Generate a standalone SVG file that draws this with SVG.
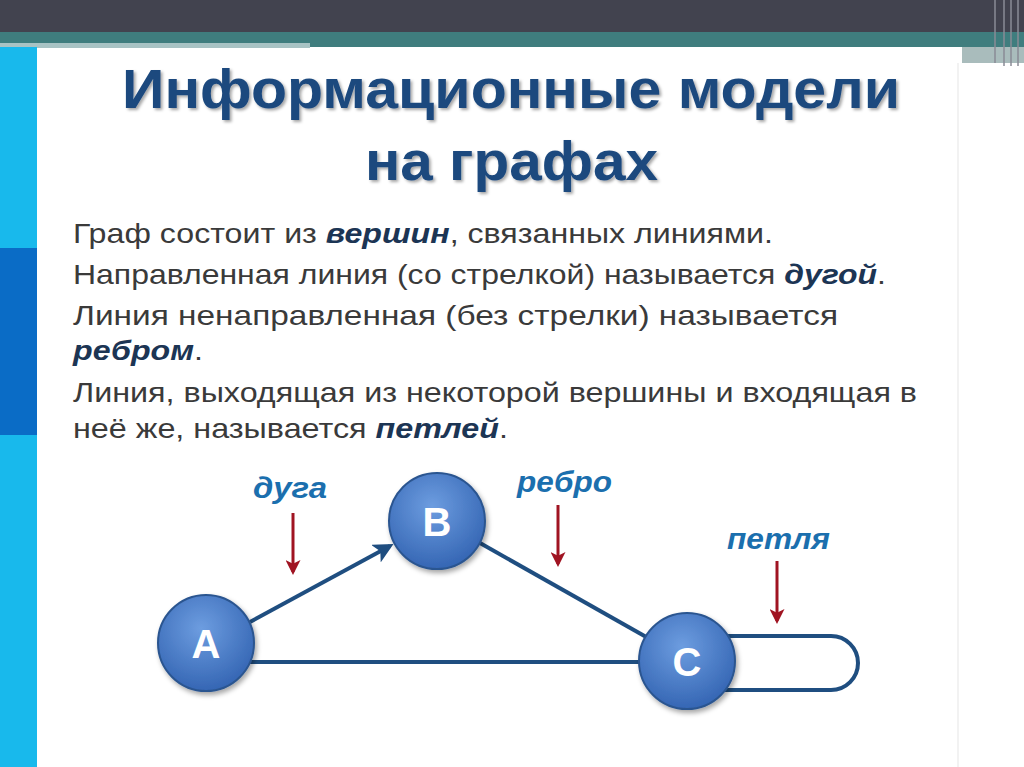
<svg xmlns="http://www.w3.org/2000/svg" width="1024" height="767" viewBox="0 0 1024 767">
<defs>
<radialGradient id="nodeGrad" cx="45%" cy="35%" r="65%">
<stop offset="0" stop-color="#6d9de0"/>
<stop offset="1" stop-color="#3566b4"/>
</radialGradient>
<filter id="shadow" x="-20%" y="-20%" width="150%" height="150%">
<feDropShadow dx="2" dy="3" stdDeviation="2.5" flood-color="#000" flood-opacity="0.35"/>
</filter>
<filter id="tshadow" x="-5%" y="-20%" width="110%" height="150%">
<feDropShadow dx="2" dy="2" stdDeviation="1.5" flood-color="#000" flood-opacity="0.35"/>
</filter>
<marker id="blueArrow" viewBox="0 0 10 10" refX="8" refY="5" markerWidth="5" markerHeight="5" orient="auto" markerUnits="strokeWidth">
<path d="M0,0 L10,5 L0,10 L2.5,5 z" fill="#1f4e80"/>
</marker>
<marker id="redArrow" viewBox="0 0 10 10" refX="8" refY="5" markerWidth="5" markerHeight="5" orient="auto" markerUnits="strokeWidth">
<path d="M0,0 L10,5 L0,10 L2.5,5 z" fill="#a01422"/>
</marker>
</defs>
<style>
.body{font-family:"Liberation Sans",Arial,sans-serif;font-size:28px;fill:#3a3a3a}
.em{font-weight:bold;font-style:italic;fill:#1c3554}
.title{font-family:"Liberation Sans",Arial,sans-serif;font-size:56px;font-weight:bold;fill:#1f4a7e}
.lbl{font-family:"Liberation Sans",Arial,sans-serif;font-size:30px;font-weight:bold;font-style:italic;fill:#1b6fae}
.nodeC{fill:url(#nodeGrad);stroke:#2b5590;stroke-width:2}
.nodeT{font-family:"Liberation Sans",Arial,sans-serif;font-size:40px;font-weight:bold;fill:#ffffff;text-anchor:middle}
.edge{stroke:#1f4e80;stroke-width:4;fill:none}
.red{stroke:#a01422;stroke-width:3;fill:none}
</style>
<rect width="1024" height="767" fill="#ffffff"/>
<!-- header bars -->
<rect x="0" y="0" width="1024" height="33" fill="#42434f"/>
<rect x="0" y="32" width="1024" height="15" fill="#3f7d7e"/>
<rect x="0" y="43" width="310" height="5" fill="#a8c3c4"/>
<rect x="962" y="47" width="62" height="16" fill="#a9bcbc"/>
<g stroke="#8a8b96" stroke-width="1.5">
<line x1="995" y1="0" x2="995" y2="63"/>
<line x1="1004" y1="0" x2="1004" y2="66"/>
<line x1="1011" y1="0" x2="1011" y2="66"/>
<line x1="1018" y1="0" x2="1018" y2="66"/>
</g>
<!-- left bar -->
<rect x="0" y="47" width="37" height="720" fill="#18b9ec"/>
<rect x="0" y="248" width="37" height="187" fill="#0a6cc6"/>
<line x1="958" y1="63" x2="958" y2="767" stroke="#f2f2f2" stroke-width="2"/>
<!-- title -->
<g filter="url(#tshadow)">
<text class="title" x="122" y="108" textLength="778" lengthAdjust="spacingAndGlyphs">Информационные модели</text>
<text class="title" x="365" y="180" textLength="293" lengthAdjust="spacingAndGlyphs">на графах</text>
</g>
<!-- body text -->
<text class="body" x="73" y="243" textLength="700" lengthAdjust="spacingAndGlyphs">Граф состоит из <tspan class="em">вершин</tspan>, связанных линиями.</text>
<text class="body" x="73" y="284" textLength="813" lengthAdjust="spacingAndGlyphs">Направленная линия (со стрелкой) называется <tspan class="em">дугой</tspan>.</text>
<text class="body" x="73" y="325" textLength="765" lengthAdjust="spacingAndGlyphs">Линия ненаправленная (без стрелки) называется</text>
<text class="body" x="73" y="360" textLength="130" lengthAdjust="spacingAndGlyphs"><tspan class="em">ребром</tspan>.</text>
<text class="body" x="73" y="402" textLength="844" lengthAdjust="spacingAndGlyphs">Линия, выходящая из некоторой вершины и входящая в</text>
<text class="body" x="73" y="438" textLength="435" lengthAdjust="spacingAndGlyphs">неё же, называется <tspan class="em">петлей</tspan>.</text>
<!-- connectors -->
<g id="connectors">
<line class="edge" x1="250" y1="622" x2="390" y2="546" marker-end="url(#blueArrow)"/>
<line class="edge" x1="480" y1="543" x2="648" y2="638"/>
<line class="edge" x1="250" y1="662" x2="642" y2="662"/>
<path class="edge" d="M725,636 L831,636 A27,27 0 0 1 831,690 L725,690"/>
<line class="red" x1="293" y1="513" x2="293" y2="572" marker-end="url(#redArrow)"/>
<line class="red" x1="558" y1="505" x2="558" y2="564" marker-end="url(#redArrow)"/>
<line class="red" x1="777" y1="561" x2="777" y2="621" marker-end="url(#redArrow)"/>
</g>
<text class="lbl" x="253" y="498" textLength="74" lengthAdjust="spacingAndGlyphs">дуга</text>
<text class="lbl" x="517" y="492" textLength="95" lengthAdjust="spacingAndGlyphs">ребро</text>
<text class="lbl" x="727" y="549" textLength="103" lengthAdjust="spacingAndGlyphs">петля</text>
<!-- nodes -->
<g id="nodeA">
<circle class="nodeC" cx="206" cy="643" r="48" filter="url(#shadow)"/>
<text class="nodeT" x="206" y="658">A</text>
</g>
<g id="nodeB">
<circle class="nodeC" cx="437" cy="521" r="48" filter="url(#shadow)"/>
<text class="nodeT" x="437" y="536">B</text>
</g>
<g id="nodeC">
<circle class="nodeC" cx="687" cy="661" r="48" filter="url(#shadow)"/>
<text class="nodeT" x="687" y="676">C</text>
</g>
</svg>
